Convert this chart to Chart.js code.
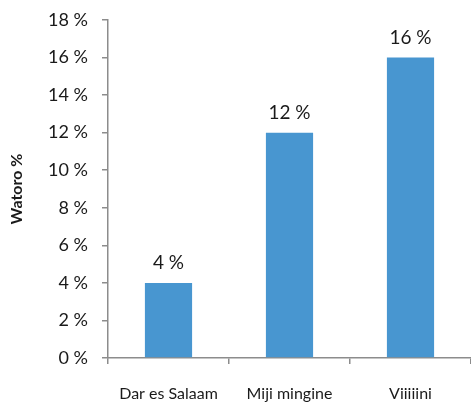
<!DOCTYPE html>
<html><head><meta charset="utf-8">
<script src="https://cdn.jsdelivr.net/npm/chart.js@4/dist/chart.umd.min.js"></script>
<style>html,body{margin:0;padding:0;background:#fff}#wrap{width:471px;height:404px}</style>
</head><body><div id="wrap"><canvas id="c" width="471" height="404"></canvas></div>
<script>
const categories = ["Dar es Salaam", "Miji mingine", "Viiiiini"];
const values = [4, 12, 16];
const yTicks = [0, 2, 4, 6, 8, 10, 12, 14, 16, 18];
const yTitle = "Watoro %";

const labelPlugin = {
  id: 'vlabels',
  afterDatasetsDraw(chart) {
    const ctx = chart.ctx;
    const meta = chart.getDatasetMeta(0);
    ctx.save();
    ctx.font = '19px Lato';
    ctx.fillStyle = '#1a1a1a';
    ctx.textAlign = 'center';
    ctx.textBaseline = 'alphabetic';
    meta.data.forEach((bar, i) => {
      ctx.fillText(values[i] + ' %', bar.x, bar.y - 14);
    });
    ctx.restore();
  }
};

new Chart(document.getElementById('c'), {
  type: 'bar',
  data: { labels: categories, datasets: [{ data: values, backgroundColor: '#4896d0', borderWidth: 0, categoryPercentage: 1, barPercentage: 0.39 }] },
  options: {
    responsive: false, animation: false,
    layout: { padding: { top: 20, right: 0, left: 7, bottom: 0 } },
    plugins: { legend: { display: false }, tooltip: { enabled: false } },
    scales: {
      x: {
        offset: true,
        grid: { display: true, drawOnChartArea: false, offset: true, tickLength: 6, color: '#8c8c8c', lineWidth: 1.5 },
        border: { color: '#8c8c8c', width: 1.5 },
        ticks: { color: '#1a1a1a', font: { family: 'Lato', size: 16 }, padding: 20, maxRotation: 0 },
        afterFit(s) { s.height = 46; s.paddingLeft = 0; s.paddingRight = 0; }
      },
      y: {
        min: 0, max: 18,
        afterBuildTicks(s) { s.ticks = yTicks.map(v => ({ value: v })); },
        grid: { display: true, drawOnChartArea: false, tickLength: 6, color: '#8c8c8c', lineWidth: 1.5 },
        border: { color: '#8c8c8c', width: 1.5 },
        ticks: { color: '#1a1a1a', font: { family: 'Lato', size: 18 }, padding: 14, callback: v => v + ' %' },
        title: { display: true, text: yTitle, color: '#1a1a1a', font: { family: 'Lato', size: 16, weight: 'bold' }, padding: { top: 0, bottom: 12 } },
        afterFit(s) { s.width = 101; s.paddingTop = 0; s.paddingBottom = 0; }
      }
    }
  },
  plugins: [labelPlugin]
});
</script></body></html>
